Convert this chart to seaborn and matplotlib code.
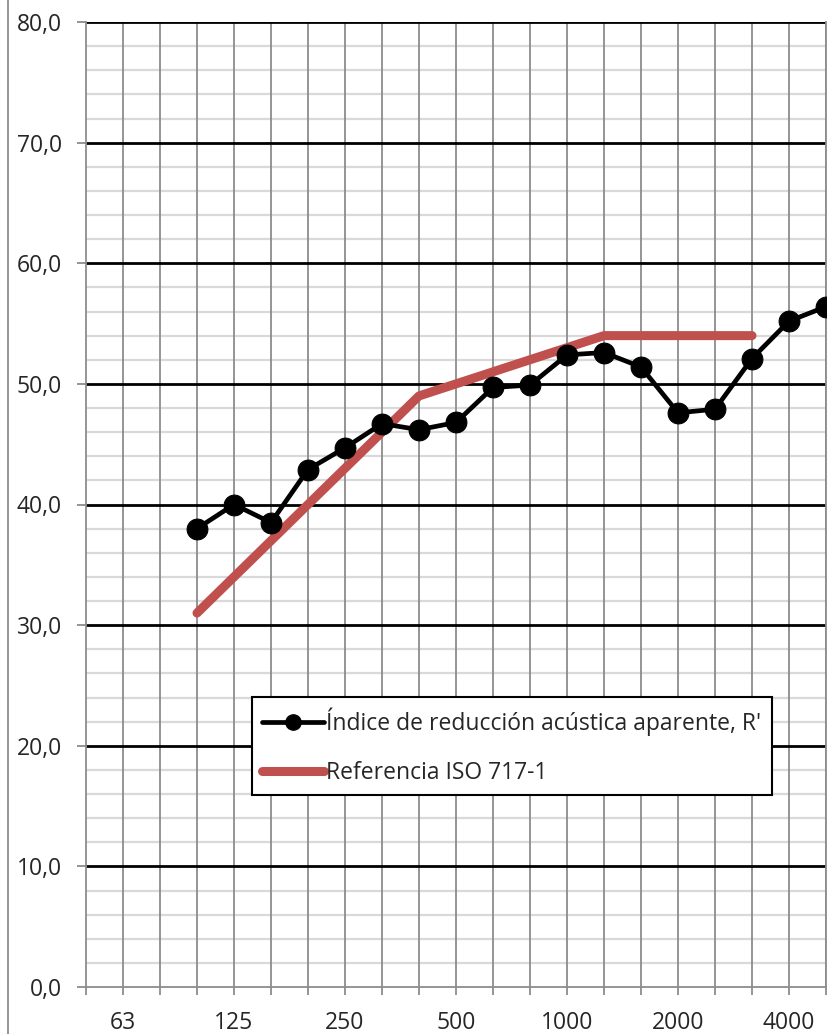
import numpy as np
import pandas as pd
import matplotlib.pyplot as plt
from matplotlib.ticker import FuncFormatter, MultipleLocator
from matplotlib.lines import Line2D
import seaborn as sns

# Bandas de tercio de octava (Hz)
bandas = ['50', '63', '80', '100', '125', '160', '200', '250', '315', '400', '500',
          '630', '800', '1000', '1250', '1600', '2000', '2500', '3150', '4000', '5000']
etiquetas = ['63', '125', '250', '500', '1000', '2000', '4000']

# Índice de reducción acústica aparente R' (100 - 5000 Hz)
bandas_r = ['100', '125', '160', '200', '250', '315', '400', '500', '630', '800',
            '1000', '1250', '1600', '2000', '2500', '3150', '4000', '5000']
valores_r = [38.0, 40.0, 38.5, 42.9, 44.7, 46.7, 46.2, 46.8, 49.7, 49.9,
             52.4, 52.6, 51.4, 47.6, 47.9, 52.1, 55.2, 56.4]

# Curva de referencia ISO 717-1 desplazada (100 - 3150 Hz)
bandas_ref = ['100', '125', '160', '200', '250', '315', '400', '500', '630', '800',
              '1000', '1250', '1600', '2000', '2500', '3150']
valores_ref = [31, 34, 37, 40, 43, 46, 49, 50, 51, 52, 53, 54, 54, 54, 54, 54]

nombre_r = "Índice de reducción acústica aparente, R'"
nombre_ref = 'Referencia ISO 717-1'

df_r = pd.DataFrame({'pos': [bandas.index(b) for b in bandas_r], 'valor': valores_r})
df_ref = pd.DataFrame({'pos': [bandas.index(b) for b in bandas_ref], 'valor': valores_ref})

sns.set_style('white')
plt.rcParams['font.family'] = ['Open Sans', 'DejaVu Sans']

fig = plt.figure(figsize=(8.38, 10.34), dpi=100)
ax = fig.add_axes([86 / 838, 47 / 1034, 740 / 838, 965 / 1034])

# Rejilla
for y in np.arange(2, 80, 2):
    if y % 10:
        ax.axhline(y, color='#d9d9d9', lw=1.6, zorder=0)
for i in range(1, len(bandas)):
    ax.axvline(i, color='#8c8c8c', lw=1.3, zorder=0.5)
for y in range(10, 90, 10):
    ax.axhline(y, color='black', lw=2.0, zorder=1)

sns.lineplot(data=df_ref, x='pos', y='valor', ax=ax, color='#C0504D', lw=6.5,
             solid_capstyle='round', zorder=3)
sns.lineplot(data=df_r, x='pos', y='valor', ax=ax, color='black', lw=3.4,
             marker='o', markersize=15, markeredgecolor='black', zorder=4)

ax.set_xlim(0, len(bandas) - 1)
ax.set_ylim(0, 80)
ax.set_xlabel('')
ax.set_ylabel('')

ax.set_xticks(range(len(bandas)))
ax.set_xticklabels([b if b in etiquetas else '' for b in bandas])
ax.yaxis.set_major_locator(MultipleLocator(10))
ax.yaxis.set_major_formatter(FuncFormatter(lambda v, p: f'{v:.1f}'.replace('.', ',')))
ax.tick_params(axis='x', direction='out', length=6, width=1.3, color='#8c8c8c',
               labelsize=16.5, pad=11, bottom=True)
ax.tick_params(axis='y', direction='out', length=6.5, width=1.3, color='#8c8c8c',
               labelsize=16.5, pad=11, left=True)

for lado in ['left', 'bottom', 'right']:
    ax.spines[lado].set_color('#8c8c8c')
    ax.spines[lado].set_linewidth(1.3)
ax.spines['top'].set_visible(False)

handles = [Line2D([], [], color='black', lw=3.4, marker='o', markersize=11),
           Line2D([], [], color='#C0504D', lw=6.5, solid_capstyle='round')]
leg = ax.legend(handles, [nombre_r, nombre_ref], loc='upper left',
                bbox_to_anchor=(166 / 740, 290 / 965), fontsize=16.5,
                frameon=True, fancybox=False, edgecolor='black', framealpha=1,
                handlelength=2.7, handletextpad=0.1, labelspacing=1.1,
                borderpad=0.45, borderaxespad=0)
leg.get_frame().set_linewidth(1.5)

# Borde del área del gráfico
fig.add_artist(Line2D([8 / 838, 8 / 838], [0, 1], color='#8c8c8c', lw=1.3))

fig.savefig('out.png', dpi=100)
